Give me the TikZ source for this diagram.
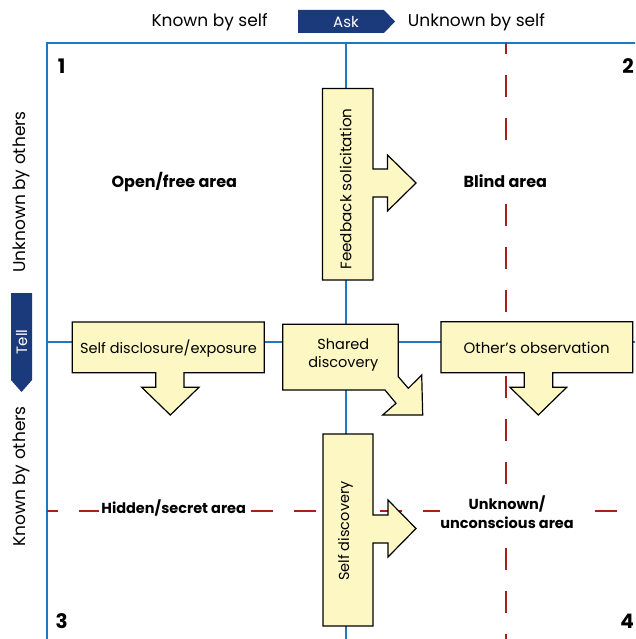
\documentclass[tikz,border=0pt]{standalone}
\usepackage{fontspec}
\setmainfont{Poppins}
\definecolor{axisblue}{HTML}{1F78C1}
\definecolor{navy}{HTML}{1B3A7C}
\definecolor{pale}{HTML}{FDF7C3}
\definecolor{dashred}{HTML}{A8201A}
\tikzset{
  axisline/.style={draw=axisblue, line width=1.6pt},
  reddash/.style={draw=dashred, line width=1.3pt, dash pattern=on 22pt off 21pt, dash phase=11pt},
  arrowbox/.style={draw=black, fill=pale, line width=1.2pt, line join=miter},
  navyarrow/.style={fill=navy},
  axislabel/.style={font=\fontsize{17}{19}\selectfont, inner sep=0pt},
  boxtext/.style={font=\fontsize{14.5}{18}\selectfont, inner sep=0pt, align=center},
  arealabel/.style={font=\bfseries\fontsize{14.5}{19}\selectfont, align=center},
  bigarea/.style={font=\bfseries\fontsize{16}{19}\selectfont, align=center},
  numlabel/.style={font=\bfseries\fontsize{20}{22}\selectfont, inner sep=0pt},
  navytext/.style={font=\fontsize{15}{18}\selectfont, text=white, inner sep=0pt}
}
\begin{document}
\begin{tikzpicture}[x=1pt,y=-1pt]
\useasboundingbox (0,0) rectangle (635,639);
\clip (0,0) rectangle (635,639);
% frame and axes
\coordinate (tl) at (47,43);
\coordinate (tr) at (700,43);
\coordinate (bl) at (47,700);
\coordinate (ctop) at (346,43);
\coordinate (cbot) at (346,700);
\coordinate (ml) at (47,342);
\coordinate (mr) at (700,342);
\coordinate (rdtop) at (506,43);
\coordinate (rdbot) at (506,700);
\coordinate (hdl) at (47,511);
\coordinate (hdr) at (700,511);
\draw[axisline] (bl) -- (tl) -- (tr);
\draw[axisline] (ctop) -- (cbot);
\draw[axisline] (ml) -- (mr);
\draw[reddash] (rdtop) -- (rdbot);
\draw[reddash] (hdl) -- (hdr);

% top and side labels
\node[axislabel] (kself) at (209.6,22) {Known by self};
\node[axislabel] (ukself) at (476.5,22) {Unknown by self};
\node[axislabel, rotate=90] (ukothers) at (21.5,192) {Unknown by others};
\node[axislabel, rotate=90] (kothers) at (21.5,476.5) {Known by others};

% Ask and Tell arrows
\fill[navyarrow] (298,10) -- (384,10) -- (395,21.5) -- (384,33) -- (298,33) -- cycle;
\node[navytext] (ask) at (346,22) {Ask};
\fill[navyarrow] (11,293) -- (32,293) -- (32,380) -- (21.5,392) -- (11,380) -- cycle;
\node[navytext, rotate=90] (tell) at (21.7,342) {Tell};

% quadrant numbers
\node[numlabel] (n1) at (61.6,66) {1};
\node[numlabel, anchor=east] (n2) at (634,66) {2};
\node[numlabel] (n3) at (61.6,621) {3};
\node[numlabel, anchor=east] (n4) at (634,621) {4};

% area labels
\node[bigarea] (open) at (174.3,181.7) {Open/free area};
\node[bigarea, fill=white, minimum height=45pt] (blind) at (505.3,181) {Blind area};
\node[arealabel, fill=white, inner xsep=2pt, inner ysep=3pt] (hidden) at (173.7,508) {Hidden/secret area};
\node[arealabel, fill=white, inner xsep=0pt, inner ysep=4pt] (unknown) at (507,512) {Unknown/\\unconscious area};

% feedback solicitation
\draw[arrowbox] (322.5,88.5) -- (373,88.5) -- (373,169) -- (387.5,169) -- (387.5,155) -- (416,183) -- (387.5,211) -- (387.5,197) -- (373,197) -- (373,280) -- (322.5,280) -- cycle;
\node[boxtext, font=\fontsize{15.2}{18}\selectfont, rotate=90] (feedback) at (345.7,189) {Feedback solicitation};

% self discovery
\draw[arrowbox] (323,434) -- (373,434) -- (373,515) -- (388,515) -- (388,500) -- (416,528.5) -- (388,557) -- (388,543) -- (373,543) -- (373,626) -- (323,626) -- cycle;
\node[boxtext, rotate=90] (selfdisc) at (345.5,531) {Self discovery};

% self disclosure
\draw[arrowbox] (72.3,322) -- (264.3,322) -- (264.3,372.7) -- (184,372.7) -- (184,387.3) -- (199,387.3) -- (170.3,415) -- (141.7,387.3) -- (155.7,387.3) -- (155.7,372.7) -- (72.3,372.7) -- cycle;
\node[boxtext] (disclosure) at (168.5,348.3) {Self disclosure/exposure};

% shared discovery
\draw[arrowbox] (282.7,324.3) -- (398.3,324.3) -- (398.3,376.7) -- (408.3,388.3) -- (421.7,375) -- (422.7,415) -- (382.7,415) -- (396,403.3) -- (385,390) -- (282.7,390) -- cycle;
\node[boxtext] (shared) at (343.3,355) {Shared\\discovery};

% other's observation
\draw[arrowbox] (441,321.7) -- (632.7,321.7) -- (632.7,372.7) -- (552.7,372.7) -- (552.7,387.3) -- (566.7,387.3) -- (538.3,415) -- (510,387.3) -- (524.3,387.3) -- (524.3,372.7) -- (441,372.7) -- cycle;
\node[boxtext, font=\fontsize{15}{18}\selectfont] (others) at (536.7,348) {Other’s observation};
\end{tikzpicture}
\end{document}
